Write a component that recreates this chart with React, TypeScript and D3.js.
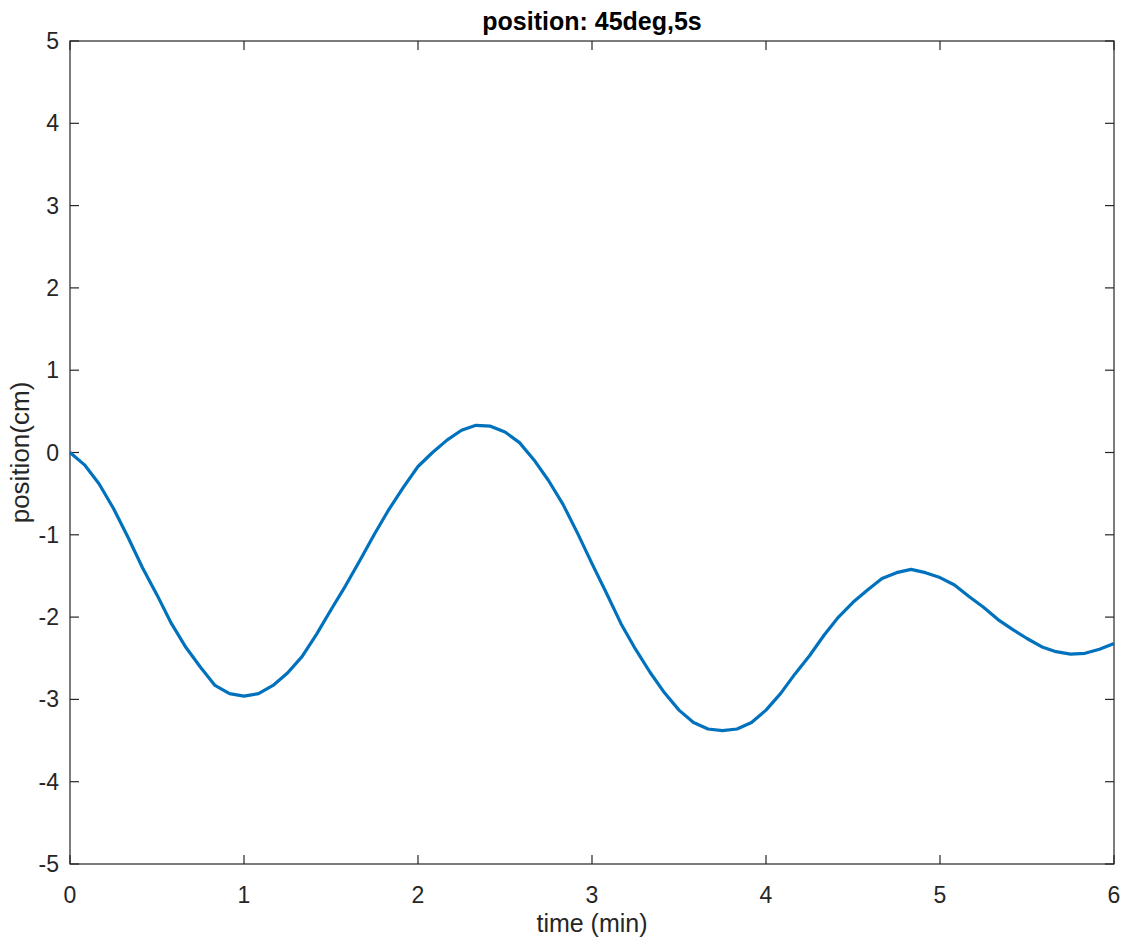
import { useEffect, useRef } from "react";
import * as d3 from "d3";

// sampled every 5 s (1/12 min)
const timeMin = d3.range(73).map((i) => i / 12);
const positionCm = [
  0, -0.15, -0.38, -0.68, -1.03, -1.4, -1.73, -2.08, -2.37, -2.61, -2.83, -2.93, -2.96,
  -2.93, -2.83, -2.68, -2.48, -2.21, -1.91, -1.62, -1.31, -0.99, -0.69, -0.42, -0.17,
  0.0, 0.15, 0.27, 0.33, 0.32, 0.25, 0.12, -0.09, -0.34, -0.63, -0.98, -1.35,
  -1.71, -2.08, -2.39, -2.67, -2.92, -3.13, -3.28, -3.36, -3.38, -3.36, -3.28, -3.13,
  -2.93, -2.69, -2.47, -2.22, -2.0, -1.82, -1.67, -1.53, -1.46, -1.42, -1.46, -1.52,
  -1.61, -1.75, -1.88, -2.03, -2.15, -2.26, -2.36, -2.42, -2.45, -2.44, -2.39, -2.32,
];
const xTicks = [0, 1, 2, 3, 4, 5, 6];
const yTicks = [-5, -4, -3, -2, -1, 0, 1, 2, 3, 4, 5];

const W = 1124;
const H = 940;

export default function App() {
  const ref = useRef<SVGSVGElement>(null);

  useEffect(() => {
    const svg = d3.select(ref.current);
    svg.selectAll("*").remove();

    const left = 70, right = 1114, top = 41, bottom = 864;
    const x = d3.scaleLinear().domain([0, 6]).range([left, right]);
    const y = d3.scaleLinear().domain([-5, 5]).range([bottom, top]);
    const axisColor = "#262626";
    const font = "'Liberation Sans', Arial, Helvetica, sans-serif";
    const tickLen = 9;

    // box
    svg.append("rect")
      .attr("x", left).attr("y", top)
      .attr("width", right - left).attr("height", bottom - top)
      .attr("fill", "none").attr("stroke", axisColor).attr("stroke-width", 1.2);

    const ticks = svg.append("g").attr("stroke", axisColor).attr("stroke-width", 1.2);
    xTicks.forEach((t) => {
      ticks.append("line").attr("x1", x(t)).attr("x2", x(t)).attr("y1", bottom).attr("y2", bottom - tickLen);
      ticks.append("line").attr("x1", x(t)).attr("x2", x(t)).attr("y1", top).attr("y2", top + tickLen);
    });
    yTicks.forEach((t) => {
      ticks.append("line").attr("x1", left).attr("x2", left + tickLen).attr("y1", y(t)).attr("y2", y(t));
      ticks.append("line").attr("x1", right).attr("x2", right - tickLen).attr("y1", y(t)).attr("y2", y(t));
    });

    svg.append("g")
      .selectAll("text")
      .data(xTicks)
      .join("text")
      .attr("x", (d) => x(d))
      .attr("y", bottom + 39)
      .attr("text-anchor", "middle")
      .attr("font-family", font)
      .attr("font-size", 23)
      .attr("fill", axisColor)
      .text((d) => d);

    svg.append("g")
      .selectAll("text")
      .data(yTicks)
      .join("text")
      .attr("x", left - 11)
      .attr("y", (d) => y(d) + 8)
      .attr("text-anchor", "end")
      .attr("font-family", font)
      .attr("font-size", 23)
      .attr("fill", axisColor)
      .text((d) => d);

    svg.append("text")
      .attr("x", (left + right) / 2)
      .attr("y", 932)
      .attr("text-anchor", "middle")
      .attr("font-family", font)
      .attr("font-size", 25)
      .attr("fill", axisColor)
      .text("time (min)");

    svg.append("text")
      .attr("transform", `translate(29,${(top + bottom) / 2}) rotate(-90)`)
      .attr("text-anchor", "middle")
      .attr("font-family", font)
      .attr("font-size", 26)
      .attr("fill", axisColor)
      .text("position(cm)");

    svg.append("text")
      .attr("x", (left + right) / 2)
      .attr("y", 30)
      .attr("text-anchor", "middle")
      .attr("font-family", font)
      .attr("font-size", 25)
      .attr("font-weight", "bold")
      .attr("fill", "#000")
      .text("position: 45deg,5s");

    const line = d3.line<number>()
      .x((_, i) => x(timeMin[i]))
      .y((d) => y(d));

    svg.append("path")
      .datum(positionCm)
      .attr("fill", "none")
      .attr("stroke", "#0072BD")
      .attr("stroke-width", 3.2)
      .attr("stroke-linejoin", "round")
      .attr("d", line);
  }, []);

  return (
    <svg
      ref={ref}
      width={W}
      height={H}
      style={{ position: "absolute", left: 0, top: 0, background: "#fff" }}
    />
  );
}
